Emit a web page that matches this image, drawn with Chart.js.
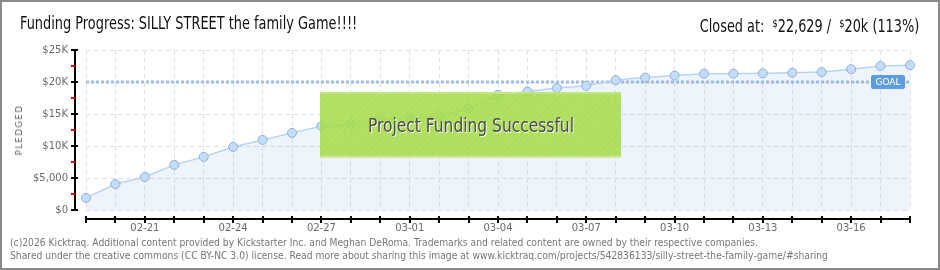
<!DOCTYPE html>
<html lang="en">
<head>
<meta charset="UTF-8">
<title>Funding Progress: SILLY STREET the family Game!!!!</title>
<script src="https://cdn.jsdelivr.net/npm/chart.js"></script>
<style>
    body { margin: 0; background: #fff; }
    .wrap { position: relative; width: 940px; height: 270px; overflow: hidden; }
    canvas { position: absolute; left: 0; top: 0; }
    .frame { position: absolute; left: 0; top: 0; width: 940px; height: 270px; box-sizing: border-box; border: 2px solid #8a8a8a; pointer-events: none; }
    .title { position: absolute; left: 20px; top: 15px; font: 17px "Liberation Sans Narrow", "DejaVu Sans Condensed", "Roboto Condensed", sans-serif; color: #111; white-space: nowrap; line-height: 17px; transform: scaleX(0.845); transform-origin: left center; }
    .closed { position: absolute; right: 21px; top: 15px; font: 17px "Liberation Sans Narrow", "DejaVu Sans Condensed", "Roboto Condensed", sans-serif; color: #111; white-space: nowrap; line-height: 17px; transform: scaleX(0.84); transform-origin: right center; }
    .closed sup { font-size: 11px; vertical-align: 5px; }
    .pledged { position: absolute; left: 19px; top: 130px; transform: translate(-50%, -50%) rotate(-90deg); font: 8.5px "DejaVu Sans", sans-serif; letter-spacing: 1.5px; color: #5a5a5a; white-space: nowrap; }
    .success { position: absolute; left: 320px; top: 92px; width: 301px; height: 66px; box-sizing: border-box;
        background: repeating-linear-gradient(135deg, rgba(255,255,255,0.07) 0 2px, rgba(255,255,255,0) 2px 4px), rgba(164,219,70,0.88);
        border-top: 2px solid #c2e582; border-bottom: 2px solid #cfe9a4; }
    .success span { position: absolute; left: 50%; top: 50%; transform: translate(-50%, -50%) scaleX(0.86);
        font: 20px "Liberation Sans Narrow", "DejaVu Sans Condensed", "Roboto Condensed", sans-serif; color: #4d4d4d; text-shadow: 1px 1px 0 rgba(255,255,255,0.85); white-space: nowrap; }
    .footer { position: absolute; left: 10px; top: 236px; font: 10px "DejaVu Sans", sans-serif; color: #777; line-height: 13px; white-space: nowrap; transform: scaleX(0.92); transform-origin: left center; }
</style>
</head>
<body>
<div class="wrap">
    <canvas id="chart" width="940" height="270"></canvas>
    <div class="title">Funding Progress: SILLY STREET the family Game!!!!</div>
    <div class="closed">Closed at: &nbsp;<sup>$</sup>22,629 / &nbsp;<sup>$</sup>20k (113%)</div>
    <div class="pledged">PLEDGED</div>
    <div class="success"><span>Project Funding Successful</span></div>
    <div class="footer">(c)2026 Kicktraq. Additional content provided by Kickstarter Inc. and Meghan DeRoma. Trademarks and related content are owned by their respective companies.<br>Shared under the creative commons (CC BY-NC 3.0) license. Read more about sharing this image at www.kicktraq.com/projects/542836133/silly-street-the-family-game/#sharing</div>
    <div class="frame"></div>
</div>

<script>
const dates = ['02-19', '02-20', '02-21', '02-22', '02-23', '02-24', '02-25', '02-26', '02-27', '02-28', '02-29',
    '03-01', '03-02', '03-03', '03-04', '03-05', '03-06', '03-07', '03-08', '03-09', '03-10',
    '03-11', '03-12', '03-13', '03-14', '03-15', '03-16', '03-17', '03-18'];
const pledged = [1900, 4050, 5150, 7050, 8300, 9850, 10950, 12050, 13100, 13450, 14000,
    14400, 14700, 15800, 18000, 18500, 19050, 19400, 20300, 20700, 21000,
    21300, 21300, 21350, 21450, 21550, 22000, 22500, 22629];
const goal = 20000;
const yTickLabels = ['$0', '$5,000', '$10K', '$15K', '$20K', '$25K'];
const shownDates = ['02-21', '02-24', '02-27', '03-01', '03-04', '03-07', '03-10', '03-13', '03-16'];

// axis lines, tick marks, goal line and its badge
const decor = {
    id: 'decor',
    beforeDatasetsDraw(chart) {
        const { ctx, chartArea: { left, right }, scales: { y } } = chart;
        const gy = Math.round(y.getPixelForValue(goal));
        ctx.save();
        ctx.strokeStyle = '#9ebfe7';
        ctx.lineWidth = 3;
        ctx.setLineDash([3, 2]);
        ctx.beginPath();
        ctx.moveTo(left, gy);
        ctx.lineTo(right, gy);
        ctx.stroke();
        ctx.restore();
    },
    afterDraw(chart) {
        const { ctx, chartArea: { right, bottom, left }, scales: { x, y } } = chart;
        ctx.save();
        // y axis
        const ax = left - 11;
        ctx.strokeStyle = '#000';
        ctx.lineWidth = 2;
        ctx.beginPath();
        ctx.moveTo(ax, y.getPixelForValue(25000) - 1);
        ctx.lineTo(ax, y.getPixelForValue(0) + 1);
        ctx.stroke();
        for (let v = 0; v <= 25000; v += 2500) {
            const py = Math.round(y.getPixelForValue(v));
            ctx.strokeStyle = v % 5000 === 0 ? '#000' : '#e00000';
            ctx.beginPath();
            ctx.moveTo(ax - 4, py);
            ctx.lineTo(v % 5000 === 0 ? ax + 3 : ax, py);
            ctx.stroke();
        }
        // x axis
        const ay = bottom + 9;
        ctx.strokeStyle = '#000';
        ctx.beginPath();
        ctx.moveTo(x.getPixelForValue(0) - 1, ay);
        ctx.lineTo(x.getPixelForValue(dates.length - 1) + 1, ay);
        ctx.stroke();
        dates.forEach((d, i) => {
            const px = Math.round(x.getPixelForValue(i));
            ctx.beginPath();
            ctx.moveTo(px, ay - 3);
            ctx.lineTo(px, ay + 4);
            ctx.stroke();
        });
        // goal badge
        const gy = Math.round(y.getPixelForValue(goal));
        ctx.fillStyle = '#5e9ddd';
        ctx.beginPath();
        ctx.roundRect(right - 39, gy - 7, 34, 14, 2);
        ctx.fill();
        ctx.fillStyle = '#fff';
        ctx.font = '9px "DejaVu Sans", sans-serif';
        ctx.textAlign = 'center';
        ctx.textBaseline = 'middle';
        ctx.fillText('GOAL', right - 22, gy + 0.5);
        ctx.restore();
    }
};

new Chart(document.getElementById('chart').getContext('2d'), {
    type: 'line',
    data: {
        labels: dates,
        datasets: [{
            data: pledged,
            borderColor: '#b5d4f3',
            borderWidth: 1.5,
            backgroundColor: 'rgba(120,170,230,0.13)',
            fill: 'origin',
            tension: 0,
            pointRadius: 4.5,
            pointBackgroundColor: '#c4ddf7',
            pointBorderColor: '#8fafd9',
            pointBorderWidth: 1
        }]
    },
    options: {
        responsive: false,
        animation: false,
        devicePixelRatio: 1,
        layout: { padding: { left: 20, right: 30, top: 50, bottom: 30 } },
        plugins: { legend: { display: false }, tooltip: { enabled: false } },
        scales: {
            x: {
                afterFit: s => { s.height = 30; },
                grid: { color: '#e2e2e2', drawTicks: false },
                border: { display: false, dash: [5, 3] },
                ticks: {
                    autoSkip: false, maxRotation: 0, padding: 12,
                    color: '#6a6a6a', font: { family: 'DejaVu Sans', size: 10 },
                    callback: (v, i) => shownDates.includes(dates[i]) ? dates[i] : ''
                }
            },
            y: {
                min: 0, max: 25000,
                afterFit: s => { s.width = 66; },
                grid: { color: '#e2e2e2', drawTicks: false },
                border: { display: false, dash: [5, 3] },
                ticks: {
                    stepSize: 5000, padding: 18,
                    color: '#6a6a6a', font: { family: 'DejaVu Sans', size: 10 },
                    callback: v => yTickLabels[v / 5000]
                }
            }
        }
    },
    plugins: [decor]
});
</script>
</body>
</html>
